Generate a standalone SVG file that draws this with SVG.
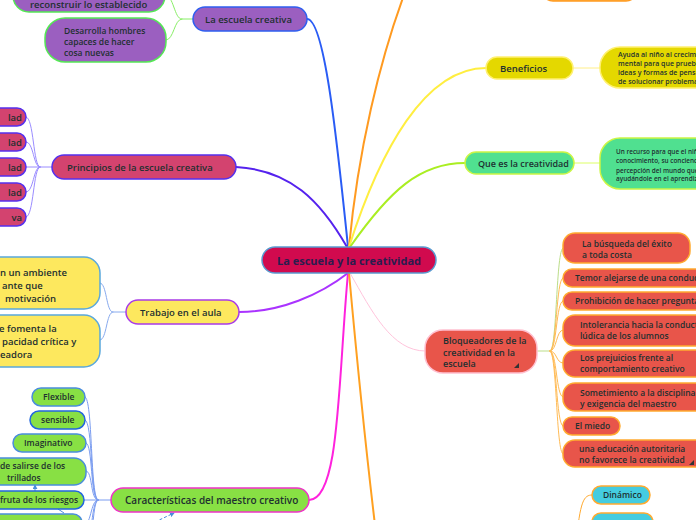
<svg xmlns="http://www.w3.org/2000/svg" width="696" height="520" viewBox="0 0 696 520">
<defs>
<style>
text{font-family:"Open Sans","DejaVu Sans",sans-serif;font-weight:600;fill:#1e3030;font-size:9.5px}
.c{fill:none;stroke-linecap:round}
.main{stroke-width:2}
.sub{stroke-width:1}
.pur{fill:#9b5fc0;stroke:#2f5ff0;stroke-width:1.5}
.purc{fill:#9b5fc0;stroke:#55e855;stroke-width:1.5}
.pri{fill:#d3436f;stroke:#5530ee;stroke-width:1.5}
.yel{fill:#fde85e;stroke:#a83be8;stroke-width:1.5}
.yelc{fill:#fde85e;stroke:#5aa8dc;stroke-width:1.5}
.grn{fill:#88e044;stroke:#f032c8;stroke-width:1.5}
.grnc{fill:#88e044;stroke:#4a8ddc;stroke-width:1.5}
.ben{fill:#e4d800;stroke:#fff070;stroke-width:1.5}
.que{fill:#50e090;stroke:#ccf544;stroke-width:1.5}
.blo{fill:#e8554a;stroke:#ffc0d0;stroke-width:1.5}
.bloc{fill:#e8554a;stroke:#ffaa30;stroke-width:1.5}
.cya{fill:#44cce0;stroke:#ffaa30;stroke-width:1.5}
.sm{font-size:8.5px}
.xs{font-size:7px}
.xxs{font-size:6.4px}
</style>
<marker id="ah" viewBox="0 0 6 6" refX="5" refY="3" markerWidth="5" markerHeight="5" orient="auto"><path d="M0,0 L6,3 L0,6 z" fill="#4a8ddc"/></marker>
</defs>
<rect width="696" height="520" fill="#ffffff"/>

<g id="connectors">
<path class="c main" stroke="#2a5cf5" d="M307,19 C324,19 336,130 348,247"/>
<path class="c main" stroke="#ff9a20" d="M349,247 C358,150 380,60 404,-5"/>
<path class="c main" stroke="#ffee40" d="M349,247 C380,150 425,68 486,68"/>
<path class="c main" stroke="#aaee22" d="M350,247 C390,190 420,163 465,163"/>
<path class="c main" stroke="#5522ee" d="M236,167 C290,170 320,200 347,247"/>
<path class="c main" stroke="#aa33ff" d="M348,273 C320,295 280,312 239,312"/>
<path class="c main" stroke="#ff22dd" d="M348,273 C338,380 340,500 309,500"/>
<path class="c main" stroke="#ffa020" d="M349,273 C356,350 366,450 375,525"/>
<path class="c sub" stroke="#ffc4dc" d="M350,273 C372,312 392,351 425,351"/>

<g stroke="#88ee66" class="c sub">
<path d="M193,19 L182,19 C174,19 174,-5 165,-5"/>
<path d="M182,19 C174,19 174,40 166,40"/>
</g>
<g stroke="#9a8cff" class="c sub">
<path d="M52,167 L40,167"/>
<path d="M40,167 C33,167 34,117 26,117"/>
<path d="M40,167 C33,167 34,142 26,142"/>
<path d="M40,167 L26,167"/>
<path d="M40,167 C33,167 34,192 26,192"/>
<path d="M40,167 C33,167 34,217 26,217"/>
</g>
<g stroke="#88aaee" class="c sub">
<path d="M126,312 L113,312 C106,312 107,283 100,283"/>
<path d="M113,312 C106,312 107,340 100,340"/>
</g>
<g stroke="#7a9cf0" class="c sub">
<path d="M111,500 L98,500"/>
<path d="M98,500 C90,500 93,397 85,397"/>
<path d="M98,500 C90,500 93,420 85,420"/>
<path d="M98,500 C90,500 93,443 86,443"/>
<path d="M98,500 C90,500 93,471 86,471"/>
<path d="M98,500 L84,500"/>
<path d="M98,500 C90,500 92,527 82,527"/>
<path d="M98,500 C90,500 93,555 82,555"/>
<path d="M98,500 C90,500 94,585 82,585"/>
</g>
<path class="c sub" stroke="#ffee88" d="M573,68 L600,68"/>
<path class="c sub" stroke="#ddff66" d="M574,163 L600,163"/>
<g class="c sub" stroke="#ffbb55">
<path stroke="#bbdd88" d="M537,351 L550,351 C557,351 556,248 563,248"/>
<path d="M550,351 C557,351 556,278 563,278"/>
<path d="M550,351 C557,351 556,301 563,301"/>
<path d="M550,351 C557,351 556,330 563,330"/>
<path d="M550,351 C557,351 556,363 563,363"/>
<path d="M550,351 C557,351 556,397 563,397"/>
<path d="M550,351 C557,351 556,426 563,426"/>
<path d="M550,351 C557,351 556,454 563,454"/>
</g>
<g class="c sub" stroke="#ffaa30">
<path d="M576,545 C580,500 584,495 592,495"/>
<path d="M578,540 C582,525 586,523 592,523"/>
</g>
<path d="M155,522 L174,513" stroke="#4a8ddc" stroke-width="1" stroke-dasharray="3,2" fill="none" marker-end="url(#ah)"/>
<path d="M35,491 L35,485" stroke="#4a8ddc" stroke-width="1" fill="none" marker-end="url(#ah)"/>
<path d="M58,509 L64,513" stroke="#4a8ddc" stroke-width="1" fill="none"/>
</g>

<g id="n-top-orange"><rect x="542" y="-22" width="95" height="23" rx="11" fill="#ffb040" stroke="#ff9a20" stroke-width="1.5"/></g>

<g id="n-center">
<rect x="262" y="247" width="174" height="26" rx="13" fill="#d10a4e" stroke="#5a9ad0" stroke-width="1.5"/>
<text x="349" y="264.5" text-anchor="middle" style="font-size:11px;font-weight:700;fill:#2a1d4e">La escuela y la creatividad</text>
</g>

<g id="n-escuela-creativa">
<rect x="193" y="7" width="114" height="24" rx="12" class="pur"/>
<text x="205" y="22.5">La escuela creativa</text>
</g>
<g id="n-reconstruir">
<rect x="13" y="-24" width="152" height="36" rx="16" class="purc"/>
<text x="30" y="7.5">reconstruir lo establecido</text>
</g>
<g id="n-desarrolla">
<rect x="45" y="18" width="121" height="44" rx="20" class="purc"/>
<text x="64" y="34" class="sm">Desarrolla hombres</text>
<text x="64" y="45" class="sm">capaces de hacer</text>
<text x="64" y="56" class="sm">cosa nuevas</text>
</g>

<g id="n-principios">
<rect x="52" y="155" width="184" height="24" rx="12" class="pri"/>
<text x="67" y="170.5">Principios de la escuela creativa</text>
</g>
<g id="n-p1"><rect x="-20" y="108" width="46" height="18" rx="9" class="pri"/><text x="22" y="120.5" text-anchor="end">lad</text></g>
<g id="n-p2"><rect x="-20" y="133" width="46" height="18" rx="9" class="pri"/><text x="22" y="145.5" text-anchor="end">lad</text></g>
<g id="n-p3"><rect x="-20" y="158" width="46" height="18" rx="9" class="pri"/><text x="22" y="170.5" text-anchor="end">lad</text></g>
<g id="n-p4"><rect x="-20" y="183" width="46" height="18" rx="9" class="pri"/><text x="22" y="195.5" text-anchor="end">lad</text></g>
<g id="n-p5"><rect x="-20" y="208" width="46" height="18" rx="9" class="pri"/><text x="22" y="220.5" text-anchor="end">va</text></g>

<g id="n-trabajo">
<rect x="126" y="300" width="113" height="24" rx="12" class="yel"/>
<text x="140" y="315.5">Trabajo en el aula</text>
</g>
<g id="n-t1">
<rect x="-40" y="257" width="140" height="52" rx="16" class="yelc"/>
<text x="0" y="276">n un ambiente</text>
<text x="2" y="289">ante que</text>
<text x="5" y="302">motivación</text>
</g>
<g id="n-t2">
<rect x="-40" y="315" width="140" height="52" rx="16" class="yelc"/>
<text x="-1" y="332">e fomenta la</text>
<text x="2" y="345">pacidad crítica y</text>
<text x="0" y="358">eadora</text>
</g>

<g id="n-caracteristicas">
<rect x="111" y="488" width="198" height="24" rx="12" class="grn"/>
<text x="125" y="503.5" style="font-size:10px">Características del maestro creativo</text>
</g>
<g id="n-flexible"><rect x="32" y="388" width="53" height="18" rx="9" class="grnc"/><text x="43" y="400" class="sm">Flexible</text></g>
<g id="n-sensible"><rect x="30" y="411" width="55" height="18" rx="9" class="grnc" style="stroke:#2266dd"/><text x="41" y="423" class="sm">sensible</text></g>
<g id="n-imaginativo"><rect x="13" y="434" width="73" height="18" rx="9" class="grnc"/><text x="24" y="446" class="sm">Imaginativo</text></g>
<g id="n-salirse"><rect x="-30" y="458" width="116" height="27" rx="12" class="grnc"/><text x="0" y="469" class="sm">de salirse de los</text><text x="7" y="481" class="sm">trillados</text></g>
<g id="n-riesgos"><rect x="-30" y="491" width="114" height="18" rx="9" class="grnc" style="stroke:#2266dd"/><text x="0" y="503" class="sm">fruta de los riesgos</text></g>
<g id="n-c7"><rect x="-30" y="514" width="112" height="20" rx="9" class="grnc"/></g>

<g id="n-beneficios">
<rect x="486" y="57" width="87" height="22" rx="11" class="ben"/>
<text x="500" y="71.5">Beneficios</text>
</g>
<g id="n-ben-child">
<rect x="600" y="47" width="130" height="41" rx="20" class="ben"/>
<text x="618" y="57" class="xs">Ayuda al niño al crecimi</text>
<text x="618" y="66" class="xs">mental para que pruebe</text>
<text x="618" y="75" class="xs">ideas y formas de pensar</text>
<text x="618" y="84" class="xs">de solucionar problemas</text>
</g>

<g id="n-que">
<rect x="465" y="152" width="109" height="22" rx="11" class="que"/>
<text x="478" y="166.5" style="font-size:9px">Que es la creatividad</text>
</g>
<g id="n-que-child">
<rect x="600" y="138" width="130" height="51" rx="20" class="que"/>
<text x="616" y="154" class="xxs">Un recurso para que el niño</text>
<text x="616" y="163" class="xxs">conocimiento,  su concienci</text>
<text x="616" y="173" class="xxs">percepción del mundo que</text>
<text x="616" y="181" class="xxs">ayudándole en el aprendiz</text>
</g>

<g id="n-bloqueadores">
<rect x="425" y="330" width="112" height="43" rx="18" class="blo"/>
<text x="443" y="344" style="font-size:9px">Bloqueadores de la</text>
<text x="443" y="355.5" style="font-size:9px">creatividad en la</text>
<text x="443" y="367" style="font-size:9px">escuela</text>
<path d="M514,368 L519,368 L519,363 z" fill="#333"/>
</g>
<g id="n-b1"><rect x="563" y="233" width="127" height="30" rx="12" class="bloc"/><text x="582" y="247" class="sm">La búsqueda del éxito</text><text x="582" y="258" class="sm">a toda costa</text></g>
<g id="n-b2"><rect x="563" y="269" width="150" height="18" rx="9" class="bloc"/><text x="575" y="281" class="sm">Temor alejarse de una conducta</text></g>
<g id="n-b3"><rect x="563" y="292" width="150" height="18" rx="9" class="bloc"/><text x="575" y="304" class="sm">Prohibición de hacer preguntas</text></g>
<g id="n-b4"><rect x="563" y="315" width="150" height="31" rx="12" class="bloc"/><text x="580" y="327.5" class="sm">Intolerancia hacia la conducta</text><text x="580" y="338.5" class="sm">lúdica de los alumnos</text></g>
<g id="n-b5"><rect x="563" y="350" width="150" height="27" rx="12" class="bloc"/><text x="580" y="361" class="sm">Los prejuicios frente al</text><text x="580" y="372" class="sm">comportamiento creativo</text></g>
<g id="n-b6"><rect x="563" y="383" width="150" height="28" rx="12" class="bloc"/><text x="580" y="396" class="sm">Sometimiento a la disciplina</text><text x="580" y="406.5" class="sm">y exigencia del maestro</text></g>
<g id="n-b7"><rect x="563" y="417" width="57" height="18" rx="9" class="bloc"/><text x="575" y="429" class="sm">El miedo</text></g>
<g id="n-b8"><rect x="563" y="440" width="150" height="27" rx="12" class="bloc"/><text x="579" y="452" class="sm">una educación autoritaria</text><text x="579" y="463" class="sm">no favorece la creatividad</text><path d="M689,465 L694,465 L694,460 z" fill="#333"/></g>

<g id="n-dinamico"><rect x="592" y="486" width="58" height="18" rx="9" class="cya"/><text x="603" y="498" class="sm">Dinámico</text></g>
<g id="n-cy2"><rect x="592" y="513" width="61" height="20" rx="9" class="cya"/></g>
</svg>
